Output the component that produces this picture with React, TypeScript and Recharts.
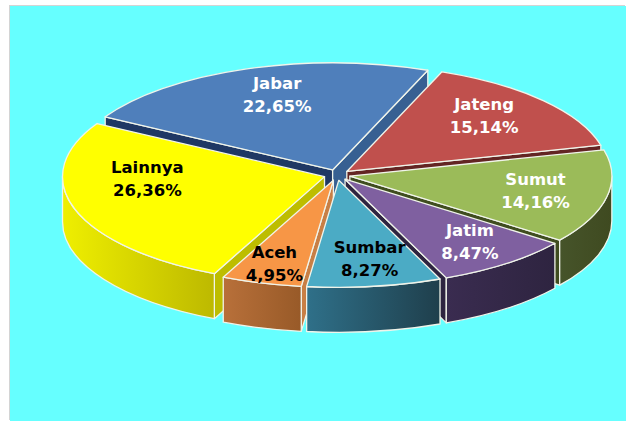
import { PieChart, Pie } from 'recharts';

const names = ['Jabar', 'Jateng', 'Sumut', 'Jatim', 'Sumbar', 'Aceh', 'Lainnya'];
const shares = [22.65, 15.14, 14.16, 8.47, 8.27, 4.95, 26.36];

const data = names.map((name, i) => ({ name, value: shares[i] }));

// back to front, so nearer slices cover the walls of the ones behind
const drawOrder = ['Jabar', 'Jateng', 'Lainnya', 'Sumut', 'Jatim', 'Aceh', 'Sumbar'];

const TOP: Record<string, string> = {
  Jabar: '#4f7fbb',
  Jateng: '#c0504d',
  Sumut: '#9bbb59',
  Jatim: '#7f60a0',
  Sumbar: '#4babc5',
  Aceh: '#f79646',
  Lainnya: '#ffff00',
};
const SIDE: Record<string, [string, string]> = {
  Jabar: ['#1f3864', '#1f3864'],
  Jateng: ['#632523', '#632523'],
  Sumut: ['#46542a', '#3f4a20'],
  Jatim: ['#3a2c50', '#2e2440'],
  Sumbar: ['#2f7089', '#1f3f4c'],
  Aceh: ['#b8703a', '#985a28'],
  Lainnya: ['#efef00', '#bdb900'],
};
// colour of the cut face on the clockwise start and end edge
const CUT_START: Record<string, string> = { Jabar: '#1f3864', Aceh: '#c87f45', Lainnya: '#bdbd00' };
const CUT_END: Record<string, string> = { Jabar: '#376092', Jateng: '#632523', Sumut: '#3f4d1f', Jatim: '#2e2440' };
const DARK_LABELS = ['Sumbar', 'Aceh', 'Lainnya'];
const LABEL_NUDGE: Record<string, [number, number]> = {
  Jabar: [10, 1],
  Jateng: [-10, -2],
  Sumut: [-7, -1],
  Jatim: [4, 0],
  Sumbar: [4, -1],
  Aceh: [-5, 7],
  Lainnya: [10, -22],
};

const CX = 337;
const CY = 175;
const RX = 262;
const SQUASH = 107 / 262;
const DEPTH = 45;
const EXPLODE = 0.05;
const START_THETA = -60.24;

const rad = (d: number) => (d * Math.PI) / 180;

function Slab(props: any) {
  const { name, cx, cy, outerRadius, startAngle, endAngle } = props;
  // recharts angles run anticlockwise from 3 o'clock, theta runs clockwise from 12
  const t0 = 90 - startAngle;
  const t1 = 90 - endAngle;
  const mid = (t0 + t1) / 2;
  const ry = outerRadius * SQUASH;
  const ax = cx + EXPLODE * outerRadius * Math.sin(rad(mid));
  const ay = cy - EXPLODE * ry * Math.cos(rad(mid));
  const pt = (t: number, drop = 0) => [
    ax + outerRadius * Math.sin(rad(t)),
    ay - ry * Math.cos(rad(t)) + drop,
  ];
  const arc = (a: number, b: number, drop = 0) => {
    const [x, y] = pt(b, drop);
    const sweep = b > a ? 1 : 0;
    return `A${outerRadius} ${ry} 0 ${Math.abs(b - a) > 180 ? 1 : 0} ${sweep} ${x} ${y}`;
  };
  const [sx, sy] = pt(t0);
  const [ex, ey] = pt(t1);
  const cut = (x: number, y: number) =>
    `M${ax} ${ay}L${x} ${y}L${x} ${y + DEPTH}L${ax} ${ay + DEPTH}Z`;

  // outer wall only where the rim faces the viewer
  const wallFrom = Math.max(t0, 90);
  const wallTo = Math.min(t1, 270);
  const hasWall = wallTo > wallFrom;
  const gradId = `wall-${name}`;
  const [w0x, w0y] = pt(wallFrom);
  const [w1x, w1y] = pt(wallTo, DEPTH);

  const edge = { stroke: '#f0f4ea', strokeWidth: 1.3, strokeLinejoin: 'round' as const };
  const sin0 = Math.sin(rad(t0));
  const sin1 = Math.sin(rad(t1));

  return (
    <g>
      <defs>
        <linearGradient id={gradId} x1="0" y1="0" x2="1" y2="0">
          <stop offset="0%" stopColor={SIDE[name][0]} />
          <stop offset="100%" stopColor={SIDE[name][1]} />
        </linearGradient>
      </defs>
      {sin0 < 0 && CUT_START[name] && <path d={cut(sx, sy)} fill={CUT_START[name]} {...edge} />}
      {sin1 > 0 && CUT_END[name] && <path d={cut(ex, ey)} fill={CUT_END[name]} {...edge} />}
      {hasWall && (
        <path
          d={`M${w0x} ${w0y}${arc(wallFrom, wallTo)}L${w1x} ${w1y}${arc(wallTo, wallFrom, DEPTH)}Z`}
          fill={`url(#${gradId})`}
          {...edge}
        />
      )}
      <path d={`M${ax} ${ay}L${sx} ${sy}${arc(t0, t1)}Z`} fill={TOP[name]} {...edge} />
    </g>
  );
}

function SliceLabel(props: any) {
  const { cx, cy, outerRadius, midAngle, name, value } = props;
  const t = 90 - midAngle;
  const nudge = LABEL_NUDGE[name] || [0, 0];
  const x = cx + 0.8 * outerRadius * Math.sin(rad(t)) + nudge[0];
  const y = cy - 0.8 * outerRadius * SQUASH * Math.cos(rad(t)) + nudge[1];
  const color = DARK_LABELS.includes(name) ? '#000000' : '#ffffff';
  return (
    <text
      x={x}
      y={y}
      textAnchor="middle"
      fill={color}
      stroke="none"
      fontFamily="'DejaVu Sans', Verdana, sans-serif"
      fontWeight="bold"
      fontSize={16.5}
    >
      <tspan x={x} dy={-6}>{name}</tspan>
      <tspan x={x} dy={23}>{value.toFixed(2).replace('.', ',')}%</tspan>
    </text>
  );
}

export default function App() {
  return (
    <div style={{ position: 'absolute', left: 0, top: 0, width: 626, height: 421, background: '#ffffff', overflow: 'hidden' }}>
      <div
        style={{
          position: 'absolute',
          left: 10,
          top: 6,
          width: 616,
          height: 415,
          background: '#66ffff',
          boxShadow: '-1px -1px 0 #d4d4d4',
        }}
      />
      <div style={{ position: 'absolute', left: 0, top: 0 }}>
        <PieChart width={626} height={421} margin={{ top: 0, right: 0, bottom: 0, left: 0 }}>
          {drawOrder.map((slice) => (
            <Pie
              key={slice}
              data={data}
              dataKey="value"
              nameKey="name"
              cx={CX}
              cy={CY}
              outerRadius={RX}
              startAngle={90 - START_THETA}
              endAngle={90 - START_THETA - 360}
              stroke="none"
              isAnimationActive={false}
              shape={(p: any) => (p.name === slice ? <Slab {...p} /> : <g />)}
            />
          ))}
          <Pie
            data={data}
            dataKey="value"
            nameKey="name"
            cx={CX}
            cy={CY}
            outerRadius={RX}
            startAngle={90 - START_THETA}
            endAngle={90 - START_THETA - 360}
            isAnimationActive={false}
            shape={() => <g />}
            labelLine={false}
            label={SliceLabel}
          />
        </PieChart>
      </div>
    </div>
  );
}
